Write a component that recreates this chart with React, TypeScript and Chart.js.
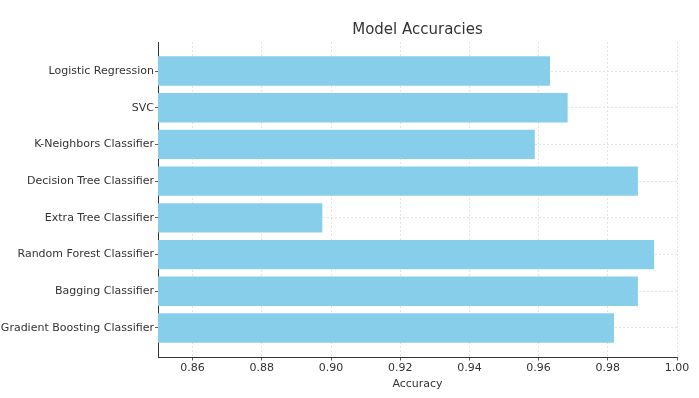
import React, { useEffect, useRef } from "react";
import { Chart, registerables } from "chart.js";

Chart.register(...registerables);

const categories = [
  "Logistic Regression",
  "SVC",
  "K-Neighbors Classifier",
  "Decision Tree Classifier",
  "Extra Tree Classifier",
  "Random Forest Classifier",
  "Bagging Classifier",
  "Gradient Boosting Classifier",
];
const accuracies = [0.9633, 0.9684, 0.9589, 0.9887, 0.8975, 0.9934, 0.9887, 0.9818];
const xTicks = [0.86, 0.88, 0.9, 0.92, 0.94, 0.96, 0.98, 1.0];
const xMin = 0.85;
const xMax = 1.0;

const FONT = "'DejaVu Sans', sans-serif";

export default function App() {
  const ref = useRef<HTMLCanvasElement>(null);
  useEffect(() => {
    document.body.style.margin = "0";
    const ctx = ref.current!.getContext("2d")!;
    const chart = new Chart(ctx, {
      type: "bar",
      data: {
        datasets: [
          {
            data: accuracies.map((v, i) => ({ x: v, y: i })),
            backgroundColor: "#87CEEB",
            borderWidth: 0,
            barPercentage: 0.8,
            categoryPercentage: 1,
            base: xMin,
          },
        ],
      },
      options: {
        indexAxis: "y",
        animation: false,
        responsive: false,
        maintainAspectRatio: false,
        layout: { padding: { left: 0, right: 22, top: 0, bottom: 0 } },
        plugins: {
          legend: { display: false },
          tooltip: { enabled: false },
          title: {
            display: true,
            text: "Model Accuracies",
            fullSize: false,
            color: "#333333",
            font: { family: FONT, size: 15, weight: "normal" },
            padding: { top: 21, bottom: 3 },
          },
        },
        scales: {
          x: {
            type: "linear",
            min: xMin,
            max: xMax,
            afterBuildTicks: (scale: any) => {
              scale.ticks = xTicks.map((v) => ({ value: v }));
            },
            afterFit: (scale: any) => {
              scale.height = 41;
            },
            ticks: {
              callback: (v: any) => Number(v).toFixed(2),
              color: "#333333",
              font: { family: FONT, size: 11 },
              padding: 1,
              maxRotation: 0,
            },
            grid: {
              color: "#dddddd",
              lineWidth: 0.8,
              tickColor: "#333333",
              tickLength: 3.5,
              tickWidth: 0.8,
            },
            border: { color: "#333333", width: 1, dash: [2, 2] },
            title: {
              display: true,
              text: "Accuracy",
              color: "#333333",
              font: { family: FONT, size: 11 },
              padding: { top: 0, bottom: 7 },
            },
          },
          y: {
            type: "linear",
            min: -0.79,
            max: 7.79,
            reverse: true,
            offset: false,
            afterBuildTicks: (scale: any) => {
              scale.ticks = categories.map((_, i) => ({ value: i }));
            },
            afterFit: (scale: any) => {
              scale.width = 158;
            },
            ticks: {
              callback: (v: any) => categories[Number(v)] ?? "",
              color: "#333333",
              font: { family: FONT, size: 11 },
              padding: 1,
            },
            grid: {
              offset: false,
              color: "#dddddd",
              lineWidth: 0.8,
              tickColor: "#333333",
              tickLength: 3,
              tickWidth: 0.8,
            },
            border: { color: "#333333", width: 1, dash: [2, 2] },
          },
        },
      } as any,
    });
    return () => chart.destroy();
  }, []);
  return (
    <div style={{ width: 699, height: 398 }}>
      <canvas ref={ref} width={699} height={398} />
    </div>
  );
}
